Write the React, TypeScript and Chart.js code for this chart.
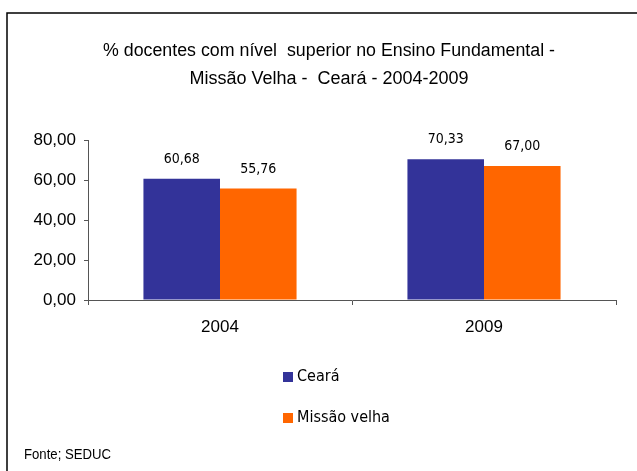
import React, { useEffect, useRef } from "react";
import { Chart, registerables } from "chart.js";

Chart.register(...registerables);

const categories = ["2004", "2009"];
const cearaValues = [60.68, 70.33];
const missaoValues = [55.76, 67.0];
const seriesNames = ["Ceará", "Missão velha"];
const seriesColors = ["#333399", "#FF6600"];
const titleLines = [
  "% docentes com nível  superior no Ensino Fundamental -",
  "Missão Velha -  Ceará - 2004-2009",
];
const footerText = "Fonte; SEDUC";

const fmt = (v: number) => v.toFixed(2).replace(".", ",");

const decorPlugin = {
  id: "decor",
  afterDraw(chart: any) {
    const ctx = chart.ctx;
    ctx.save();
    // border
    ctx.strokeStyle = "#000";
    ctx.lineWidth = 1.5;
    ctx.beginPath();
    ctx.moveTo(7, 471);
    ctx.lineTo(7, 13);
    ctx.lineTo(637, 13);
    ctx.stroke();

    // title
    ctx.fillStyle = "#000";
    ctx.textAlign = "center";
    ctx.textBaseline = "middle";
    ctx.font = "18px 'Liberation Sans', Arial, sans-serif";
    ctx.fillText(titleLines[0], 329, 51, 452);
    ctx.fillText(titleLines[1], 329, 79, 280);

    // data labels
    ctx.font = "14px 'DejaVu Sans Condensed', 'DejaVu Sans', sans-serif";
    ctx.fillStyle = "#000";
    chart.data.datasets.forEach((ds: any, i: number) => {
      const meta = chart.getDatasetMeta(i);
      meta.data.forEach((bar: any, j: number) => {
        ctx.fillText(fmt(ds.data[j]), bar.x, bar.y - 19.5, 38);
      });
    });

    // legend
    ctx.textAlign = "left";
    ctx.font = "16px 'DejaVu Sans Condensed', 'DejaVu Sans', sans-serif";
    const legendY = [377, 418];
    chart.data.datasets.forEach((ds: any, i: number) => {
      ctx.fillStyle = ds.backgroundColor;
      ctx.fillRect(283, legendY[i] - 5, 10, 10);
      ctx.fillStyle = "#000";
      ctx.fillText(ds.label, 297, legendY[i]);
    });

    // footer
    ctx.font = "14px 'Liberation Sans', Arial, sans-serif";
    ctx.fillText(footerText, 24, 455, 87);
    ctx.restore();
  },
};

export default function App() {
  const ref = useRef<HTMLCanvasElement>(null);
  useEffect(() => {
    if (!ref.current) return;
    const chart = new Chart(ref.current, {
      type: "bar",
      data: {
        labels: categories,
        datasets: [
          {
            label: seriesNames[0],
            data: cearaValues,
            backgroundColor: seriesColors[0],
            categoryPercentage: 0.58,
            barPercentage: 1,
          },
          {
            label: seriesNames[1],
            data: missaoValues,
            backgroundColor: seriesColors[1],
            categoryPercentage: 0.58,
            barPercentage: 1,
          },
        ],
      },
      options: {
        animation: false,
        responsive: false,
        maintainAspectRatio: false,
        layout: { padding: { left: 0, right: 21, top: 140, bottom: 131 } },
        plugins: {
          legend: { display: false },
          title: { display: false },
          tooltip: { enabled: false },
        },
        scales: {
          x: {
            grid: {
              display: true,
              drawOnChartArea: false,
              drawTicks: true,
              tickLength: 5,
              color: "#555",
              offset: true,
            },
            border: { display: true, color: "#555", width: 1 },
            ticks: {
              color: "#000",
              font: { family: "'Liberation Sans', Arial, sans-serif", size: 17 },
              padding: 12,
            },
            afterFit: (s: any) => {
              s.height = 40;
            },
          },
          y: {
            min: 0,
            max: 80,
            grid: {
              display: true,
              drawOnChartArea: false,
              drawTicks: true,
              tickLength: 4,
              color: "#555",
            },
            border: { display: true, color: "#555", width: 1 },
            ticks: {
              stepSize: 20,
              color: "#000",
              font: { family: "'Liberation Sans', Arial, sans-serif", size: 17 },
              padding: 8,
              callback: (v: any) => fmt(Number(v)),
            },
            afterFit: (s: any) => {
              s.width = 88;
            },
          },
        },
      },
      plugins: [decorPlugin],
    });
    return () => chart.destroy();
  }, []);
  return (
    <div style={{ position: "absolute", left: 0, top: 0, width: 637, height: 471, background: "#fff" }}>
      <canvas ref={ref} width={637} height={471} style={{ display: "block" }} />
    </div>
  );
}
